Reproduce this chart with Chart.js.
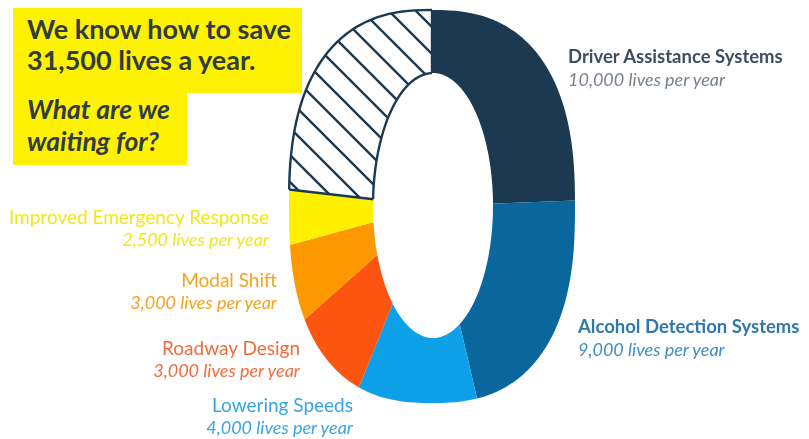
<!DOCTYPE html>
<html lang="en">
<head>
    <meta charset="UTF-8">
    <title>Lives saved per year</title>
    <script src="https://cdn.jsdelivr.net/npm/chart.js"></script>
    <style>
        body {
            margin: 0;
            background: #fff;
            font-family: 'Lato', 'Noto Sans', sans-serif;
        }

        .stage {
            position: relative;
            width: 809px;
            height: 439px;
            overflow: hidden;
        }

        #o-chart {
            position: absolute;
            left: 0;
            top: 0;
        }

        .headline {
            position: absolute;
            background: #fff200;
            color: #313b45;
            font-weight: 700;
            font-size: 27px;
            white-space: nowrap;
        }

        .headline.top {
            left: 13px;
            top: 8px;
            width: 275px;
            height: 80px;
            padding: 5px 0 0 14px;
            line-height: 31px;
        }

        .headline.bottom {
            left: 13px;
            top: 93px;
            width: 160px;
            height: 72px;
            padding: 0 0 0 14px;
            line-height: 32px;
            font-style: italic;
            font-size: 26.5px;
        }

        .label {
            position: absolute;
            white-space: nowrap;
            line-height: 23px;
        }

        .label .name {
            font-size: 19px;
        }

        .label .sub {
            font-size: 18px;
            font-style: italic;
        }

        .label.right .name {
            font-weight: 700;
            font-size: 18.5px;
        }
    </style>
</head>
<body>
    <div class="stage">
        <canvas id="o-chart" width="809" height="439"></canvas>
        <div class="headline top">We know how to save<br>31,500 lives a year.</div>
        <div class="headline bottom">What are we<br>waiting for?</div>
    </div>

    <script>
        // data
        const categories = [
            'Driver Assistance Systems',
            'Alcohol Detection Systems',
            'Lowering Speeds',
            'Roadway Design',
            'Modal Shift',
            'Improved Emergency Response'
        ];
        const livesSaved = [10000, 9000, 4000, 3000, 3000, 2500];
        const stillToDo = 9500; // hatched part of the O

        const sliceColors = ['#1b3a52', '#0a679e', '#0ea1e9', '#fd5410', '#fe9800', '#fff000'];
        const nameColors = ['#3c4e60', '#2f78ad', '#37a5e4', '#f26c3c', '#f6a21e', '#f2e61e'];
        const subColors = ['#77828d', '#3d8ec6', '#37a5e4', '#f26c3c', '#f6a21e', '#f2e61e'];
        const navy = '#1b3a52';

        // where each label sits: [x, top, side]
        const labelPos = [
            [568, 45, 'left'],
            [578, 315, 'left'],
            [353, 393, 'right'],
            [300, 336, 'right'],
            [277, 268, 'right'],
            [269, 205, 'right']
        ];

        const stage = document.querySelector('.stage');
        categories.forEach((cat, i) => {
            const el = document.createElement('div');
            const [x, top, side] = labelPos[i];
            el.className = 'label ' + (side === 'left' ? 'right' : 'left');
            el.style.top = top + 'px';
            if (side === 'left') {
                el.style.left = x + 'px';
                el.style.textAlign = 'left';
            } else {
                el.style.right = (809 - x) + 'px';
                el.style.textAlign = 'right';
            }
            el.innerHTML =
                `<div class="name" style="color:${nameColors[i]}">${cat}</div>` +
                `<div class="sub" style="color:${subColors[i]}">${livesSaved[i].toLocaleString('en-US')} lives per year</div>`;
            stage.appendChild(el);
        });

        // hatch pattern for the part not done yet
        const makeHatch = () => {
            const s = 27;
            const c = document.createElement('canvas');
            c.width = s;
            c.height = s;
            const p = c.getContext('2d');
            p.fillStyle = '#fff';
            p.fillRect(0, 0, s, s);
            p.strokeStyle = navy;
            p.lineWidth = 2.4;
            p.beginPath();
            p.moveTo(-2, -2); p.lineTo(s + 2, s + 2);
            p.moveTo(-2, s - 2); p.lineTo(2, s + 2);
            p.moveTo(s - 2, -2); p.lineTo(s + 2, 2);
            p.stroke();
            return p.createPattern(c, 'repeat');
        };

        // outline of the letter O (outer rim and the hole)
        const outer = { cx: 432, cy: 206.5, a: 143, b: 196.5, n: 2.5 };
        const hole = { cx: 433, cy: 205.5, a: 60, b: 132.5, n: 2 };

        const shapePath = (ctx, o) => {
            for (let d = 0; d <= 360; d += 2) {
                const t = d * Math.PI / 180;
                const s = Math.sin(t), c = Math.cos(t);
                const x = o.cx + o.a * Math.sign(s) * Math.pow(Math.abs(s), 2 / o.n);
                const y = o.cy - o.b * Math.sign(c) * Math.pow(Math.abs(c), 2 / o.n);
                if (d === 0) ctx.moveTo(x, y); else ctx.lineTo(x, y);
            }
            ctx.closePath();
        };

        const letterO = {
            id: 'letterO',
            beforeDatasetsDraw(chart) {
                const ctx = chart.ctx;
                ctx.save();
                ctx.beginPath();
                shapePath(ctx, outer);
                shapePath(ctx, hole);
                ctx.clip('evenodd');
            },
            afterDatasetsDraw(chart) {
                const ctx = chart.ctx;
                ctx.restore();
                // navy rim around the hatched slice
                const arc = chart.getDatasetMeta(0).data[categories.length];
                ctx.save();
                ctx.beginPath();
                ctx.moveTo(arc.x, arc.y);
                ctx.arc(arc.x, arc.y, 400, arc.startAngle, arc.endAngle);
                ctx.closePath();
                ctx.clip();
                ctx.strokeStyle = navy;
                ctx.lineWidth = 2.4;
                ctx.beginPath();
                shapePath(ctx, outer);
                ctx.stroke();
                ctx.beginPath();
                shapePath(ctx, hole);
                ctx.stroke();
                ctx.restore();
            }
        };

        const ctx = document.getElementById('o-chart').getContext('2d');
        new Chart(ctx, {
            type: 'pie',
            data: {
                labels: [...categories, 'Still to do'],
                datasets: [{
                    data: [...livesSaved, stillToDo],
                    backgroundColor: [...sliceColors, makeHatch()],
                    borderColor: [...sliceColors, navy],
                    borderWidth: [0, 0, 0, 0, 0, 0, 2.4],
                    hoverOffset: 0
                }]
            },
            options: {
                responsive: false,
                animation: false,
                events: [],
                layout: {
                    padding: { left: 55, right: 0, top: 0, bottom: 27 }
                },
                plugins: {
                    legend: { display: false },
                    tooltip: { enabled: false }
                }
            },
            plugins: [letterO]
        });
    </script>
</body>
</html>
